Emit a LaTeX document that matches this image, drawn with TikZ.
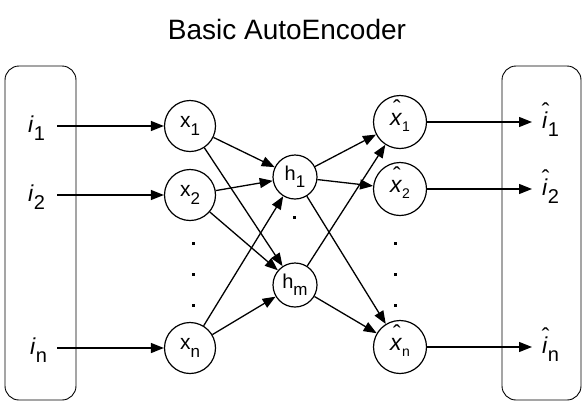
\documentclass[tikz,border=0pt]{standalone}
\usepackage{fontspec}
\setmainfont{Liberation Sans}
\usetikzlibrary{arrows.meta}
\newcommand\xs[1]{\raisebox{-8pt}{\fontsize{17pt}{17pt}\selectfont #1}}
\newcommand\hs[1]{\raisebox{-7pt}{\fontsize{17pt}{17pt}\selectfont #1}}
\newcommand\ys[1]{\raisebox{-6pt}{\fontsize{14pt}{14pt}\selectfont #1}}
\newcommand\is[1]{\raisebox{-8pt}{\fontsize{20pt}{20pt}\selectfont #1}}
\newcommand\hatted[1]{\ooalign{\textit{#1}\cr\hidewidth\raisebox{0.36em}{\kern1.5pt\symbol{"02C6}}\hidewidth\cr}}
\begin{document}
\begin{tikzpicture}[x=1pt,y=-1pt,
  neuron/.style={circle,draw,line width=1.2pt,minimum size=51pt,inner sep=0pt,font=\fontsize{21pt}{24pt}\selectfont},
  oneuron/.style={circle,draw,line width=1.2pt,minimum size=53pt,inner sep=0pt,font=\fontsize{23pt}{26pt}\selectfont},
  hid/.style={circle,draw,line width=1.2pt,minimum size=44pt,inner sep=0pt,font=\fontsize{20pt}{23pt}\selectfont},
  arr/.style={line width=1.3pt,-{Triangle[length=13pt,width=10pt]}},
  box/.style={draw,line width=0.9pt,rounded corners=14pt},
  dotn/.style={fill,inner sep=0pt,minimum size=3pt},
  lbl/.style={inner sep=0pt,font=\fontsize{23pt}{26pt}\selectfont}]
\useasboundingbox (0,0) rectangle (585,405);
% title
\node[font=\fontsize{28pt}{31pt}\selectfont] (title) at (287,29) {Basic AutoEncoder};
% boxes
\draw[box] (5,66) rectangle (76,400);
\draw[box] (502,66) rectangle (581,400);
% input labels
\node[lbl,anchor=base west] (i1) at (28,132) {\textit{i}\is{1}};
\node[lbl,anchor=base west] (i2) at (28,201) {\textit{i}\is{2}};
\node[lbl,anchor=base west] (in) at (30,354) {\textit{i}\is{n}};
\coordinate (s1) at (57,126);
\coordinate (s2) at (57,195);
\coordinate (sn) at (57,348);
% input layer
\node[neuron] (x1) at (190,126) {x\xs{1}};
\node[neuron] (x2) at (190,195) {x\xs{2}};
\node[neuron] (xn) at (190,348) {x\xs{n}};
\node[dotn] (dx1) at (193,243) {};
\node[dotn] (dx2) at (193,274) {};
\node[dotn] (dx3) at (193,305) {};
% hidden layer
\node[hid] (h1) at (295,177) {h\hs{1}};
\node[hid] (hm) at (295,285) {h\hs{m}};
\node[dotn] (dh) at (294,217) {};
% output layer
\node[oneuron] (y1) at (400,122) {\hatted{x}\ys{1}};
\node[oneuron] (y2) at (400,189) {\hatted{x}\ys{2}};
\node[oneuron] (yn) at (400,347) {\hatted{x}\ys{n}};
\node[dotn] (dy1) at (395,243) {};
\node[dotn] (dy2) at (395,274) {};
\node[dotn] (dy3) at (395,305) {};
% output labels
\coordinate (e1) at (532,122);
\coordinate (e2) at (532,189);
\coordinate (en) at (532,347);
\node[lbl,anchor=base west] (o1) at (542,128) {\hatted{i}\is{1}};
\node[lbl,anchor=base west] (o2) at (542,195) {\hatted{i}\is{2}};
\node[lbl,anchor=base west] (on) at (542,353) {\hatted{i}\is{n}};
% connectors
\draw[arr] (s1) -- (x1);
\draw[arr] (s2) -- (x2);
\draw[arr] (sn) -- (xn);
\draw[arr] (x1) -- (h1);
\draw[arr] (x1) -- (hm);
\draw[arr] (x2) -- (h1);
\draw[arr] (x2) -- (hm);
\draw[arr] (xn) -- (h1);
\draw[arr] (xn) -- (hm);
\draw[arr] (h1) -- (y1);
\draw[arr] (h1) -- (y2);
\draw[arr] (h1) -- (yn);
\draw[arr] (hm) -- (y1);
\draw[arr] (hm) -- (yn);
\draw[arr] (y1) -- (e1);
\draw[arr] (y2) -- (e2);
\draw[arr] (yn) -- (en);
\end{tikzpicture}
\end{document}
